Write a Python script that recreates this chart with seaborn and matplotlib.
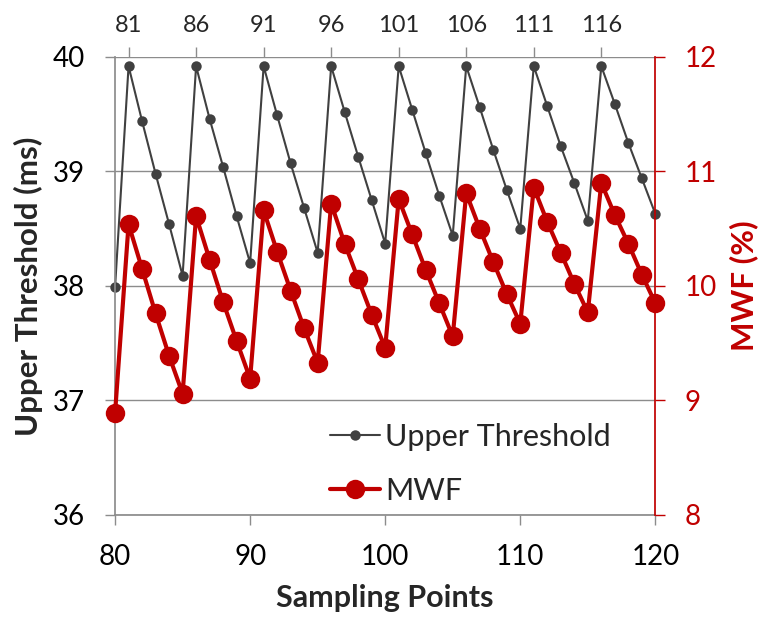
import matplotlib.pyplot as plt
import numpy as np
import pandas as pd
import seaborn as sns

# sampling points 80..120
points = list(range(80, 121))

upper_threshold = [
    37.99, 39.92, 39.44, 38.98, 38.54, 38.09,
    39.92, 39.46, 39.04, 38.61, 38.20,
    39.92, 39.49, 39.07, 38.68, 38.29,
    39.92, 39.52, 39.13, 38.75, 38.37,
    39.92, 39.54, 39.16, 38.79, 38.44,
    39.92, 39.56, 39.19, 38.84, 38.50,
    39.92, 39.57, 39.22, 38.90, 38.57,
    39.92, 39.59, 39.25, 38.94, 38.63,
]

mwf = [
    8.89, 10.54, 10.15, 9.76, 9.39, 9.06,
    10.61, 10.23, 9.86, 9.52, 9.19,
    10.66, 10.30, 9.96, 9.63, 9.33,
    10.72, 10.37, 10.06, 9.75, 9.46,
    10.76, 10.45, 10.14, 9.85, 9.56,
    10.81, 10.50, 10.21, 9.93, 9.67,
    10.86, 10.56, 10.29, 10.02, 9.77,
    10.90, 10.62, 10.37, 10.10, 9.85,
]

top_ticks = [81, 86, 91, 96, 101, 106, 111, 116]

df = pd.DataFrame({"point": points, "upper": upper_threshold, "mwf": mwf})

sns.set_theme(style="white")
plt.rcParams['font.family'] = ['Lato', 'DejaVu Sans']

grey = "#8c8c8c"
dark = "#404040"
red = "#c00000"

fig, ax = plt.subplots(figsize=(7.62, 6.24), dpi=100)
fig.subplots_adjust(left=0.151, right=0.860, top=0.9087, bottom=0.1747)

sns.lineplot(data=df, x="point", y="upper", ax=ax, color=dark, marker="o",
             markersize=7.5, markeredgewidth=0, linewidth=1.5,
             label="Upper Threshold", clip_on=False)

ax2 = ax.twinx()
sns.lineplot(data=df, x="point", y="mwf", ax=ax2, color=red, marker="o",
             markersize=14, markeredgewidth=0, linewidth=3, label="MWF",
             clip_on=False)

ax.set_xlim(80, 120)
ax.set_xticks([80, 90, 100, 110, 120])
ax.set_ylim(36, 40)
ax.set_yticks([36, 37, 38, 39, 40])
ax2.set_ylim(8, 12)
ax2.set_yticks([8, 9, 10, 11, 12])

ax.yaxis.grid(True, color=grey, linewidth=1)
ax.set_axisbelow(True)

for s in ["top", "right"]:
    ax.spines[s].set_visible(False)
ax.spines["left"].set_color(grey)
ax.spines["bottom"].set_color(grey)
for s in ["top", "left", "bottom"]:
    ax2.spines[s].set_visible(False)
ax2.spines["right"].set_color(red)

ax.tick_params(axis="y", direction="out", length=7, width=1, color=grey,
               labelsize=20, labelcolor="black", left=True, pad=15)
ax.tick_params(axis="x", direction="out", length=7, width=1, color=grey,
               labelsize=20, labelcolor="black", bottom=True, pad=14)
ax2.tick_params(axis="y", direction="out", length=7, width=1, color=red,
                labelsize=20, labelcolor=red, right=True, pad=14)

top = ax.secondary_xaxis("top")
top.set_xticks(top_ticks)
top.spines["top"].set_visible(False)
top.tick_params(direction="out", length=7, width=1, color=grey, labelsize=17, pad=8)

ax.set_xlabel("Sampling Points", fontsize=22, fontweight="bold", labelpad=10)
ax.set_ylabel("Upper Threshold (ms)", fontsize=22.5, fontweight="bold", labelpad=7)
ax2.set_ylabel("MWF (%)", fontsize=22.5, fontweight="bold", color=red, labelpad=9)

h1, l1 = ax.get_legend_handles_labels()
h2, l2 = ax2.get_legend_handles_labels()
ax.get_legend().remove()
ax2.legend(h1 + h2, l1 + l2, loc="center left", bbox_to_anchor=(0.398, 0.112),
           frameon=False, fontsize=22, handlelength=1.64, handletextpad=0.16,
           labelspacing=0.86, borderpad=0, borderaxespad=0)

fig.savefig("out.png", dpi=100)
